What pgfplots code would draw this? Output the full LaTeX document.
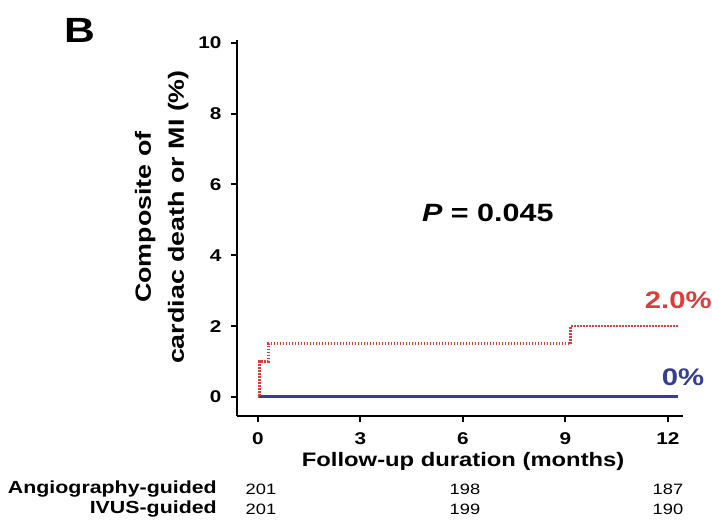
\documentclass[border=0pt]{standalone}
\usepackage{pgfplots}
\pgfplotsset{compat=1.18}
\usepackage{fontspec}
\setmainfont{Liberation Sans}[FakeStretch=1.22]
\definecolor{kmred}{RGB}{222,60,55}
\definecolor{kmblue}{RGB}{52,62,150}
\begin{document}
\begin{tikzpicture}[x=1pt,y=1pt]
\useasboundingbox (0,0) rectangle (712,521);
\node[font=\bfseries\fontsize{35}{35}\selectfont, anchor=center] at (80,491) {B};
\begin{axis}[
    at={(237pt,105pt)}, anchor=south west,
    scale only axis, width=446pt, height=376pt,
    xmin=-0.61, xmax=12.44, ymin=-0.54, ymax=10.08,
    axis lines*=left,
    axis line style={line width=2.2pt},
    tick style={line width=2pt, black},
    tick align=outside, major tick length=6pt,
    xtick={0,3,6,9,12}, ytick={0,2,4,6,8,10},
    /pgf/number format/assume math mode=true,
    tick label style={font=\bfseries\fontsize{17}{17}\selectfont},
    xticklabel style={anchor=base, yshift=-22.5pt, inner sep=0.5pt},
    yticklabel style={anchor=east, xshift=-6pt},
    xlabel={Follow-up duration (months)},
    xlabel style={font=\bfseries\fontsize{19.5}{19.5}\selectfont, inner sep=0.5pt,
      at={(axis description cs:0.507,-0.133)}, anchor=base},
    ylabel={Composite of\\cardiac death or MI (\%)},
    ylabel style={font=\bfseries\fontsize{22}{33}\selectfont, align=center,
      at={(axis description cs:-0.169,0.529)}, anchor=center},
    clip=false,
]
% IVUS-guided: no events
\addplot[kmblue, line width=3pt] coordinates {(0,0)(12.3,0)};
% angiography-guided: step curve
\addplot[kmred, line width=2.8pt, dash pattern=on 1.6pt off 1.4pt, const plot]
  coordinates {(0,0)(0.05,1.0)(0.3,1.5)(9.15,2.0)(12.3,2.0)};
\node[font=\bfseries\fontsize{25}{25}\selectfont] at (axis cs:6.73,5.2) {\textit{P} = 0.045};
\node[font=\bfseries\fontsize{24}{24}\selectfont, text=kmred] at (axis cs:12.3,2.74) {2.0\%};
\node[font=\bfseries\fontsize{24}{24}\selectfont, text=kmblue] at (axis cs:12.44,0.56) {0\%};
% numbers at risk
\node[font=\bfseries\fontsize{17.5}{17.5}\selectfont, anchor=east] at (axis cs:-1.1,-2.6) {Angiography-guided};
\node[font=\bfseries\fontsize{17.5}{17.5}\selectfont, anchor=east] at (axis cs:-1.1,-3.17) {IVUS-guided};
\node[font=\fontsize{15}{15}\selectfont] at (axis cs:0.09,-2.6) {201};
\node[font=\fontsize{15}{15}\selectfont] at (axis cs:6.06,-2.6) {198};
\node[font=\fontsize{15}{15}\selectfont] at (axis cs:12.0,-2.6) {187};
\node[font=\fontsize{15}{15}\selectfont] at (axis cs:0.09,-3.17) {201};
\node[font=\fontsize{15}{15}\selectfont] at (axis cs:6.06,-3.17) {199};
\node[font=\fontsize{15}{15}\selectfont] at (axis cs:12.0,-3.17) {190};
\end{axis}
\end{tikzpicture}
\end{document}
